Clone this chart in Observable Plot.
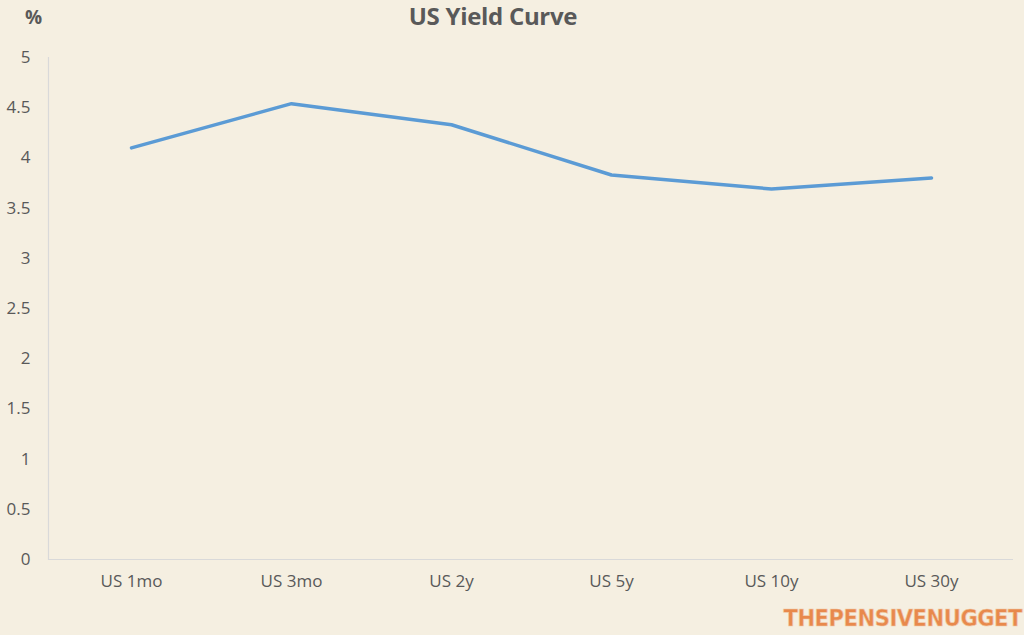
<!DOCTYPE html>
<html>
<head>
<meta charset="utf-8">
<script src="https://cdn.jsdelivr.net/npm/d3@7"></script>
<script src="https://cdn.jsdelivr.net/npm/@observablehq/plot@0.6"></script>
<style>
  html, body { margin: 0; padding: 0; background: #f5efe1; }
  #wrap { position: relative; width: 1024px; height: 635px; background: #f5efe1; overflow: hidden; }
  #title { position: absolute; left: 0; width: 986px; top: 3px; line-height: 26px; text-align: center;
    font-family: "Open Sans", sans-serif; font-weight: 700; font-size: 24px; color: #595959; letter-spacing: -0.3px; }
  #unit { position: absolute; left: 25px; top: 6px; line-height: 22px; font-family: "Open Sans", sans-serif; font-weight: 700;
    font-size: 19px; color: #595959; }
  #mark { position: absolute; right: 2px; top: 605px; line-height: 26px; font-family: "DejaVu Sans Condensed", "DejaVu Sans", sans-serif;
    font-weight: 700; font-size: 23.5px; color: #e8894c; letter-spacing: -0.5px;
    -webkit-text-stroke: 0.6px #f0c8a6; }
  #chart { position: absolute; left: 0; top: 0; }
</style>
</head>
<body>
<div id="wrap">
  <div id="chart"></div>
  <div id="title">US Yield Curve</div>
  <div id="unit">%</div>
  <div id="mark">THEPENSIVENUGGET</div>
</div>
<script>
const tenors = ["US 1mo", "US 3mo", "US 2y", "US 5y", "US 10y", "US 30y"];
const yields = [4.10, 4.54, 4.33, 3.83, 3.69, 3.80];
const yTicks = [0, 0.5, 1, 1.5, 2, 2.5, 3, 3.5, 4, 4.5, 5];

const data = tenors.map((t, i) => ({tenor: t, value: yields[i]}));

const chart = Plot.plot({
  width: 1024,
  height: 635,
  marginTop: 57,
  marginBottom: 76,
  marginLeft: 48,
  marginRight: 11,
  style: {background: "transparent", fontFamily: "'Open Sans', sans-serif", fontSize: "17px", color: "#595959"},
  x: {type: "point", domain: tenors, padding: 0.5, label: null},
  y: {domain: [0, 5], label: null},
  marks: [
    Plot.ruleY([0], {stroke: "#d9d9d9", strokeWidth: 1.2}),
    Plot.frame({anchor: "left", stroke: "#d9d9d9", strokeWidth: 1.2}),
    Plot.axisY({ticks: yTicks, tickSize: 0, tickPadding: 18, tickFormat: d => String(d), label: null, fill: "#595959"}),
    Plot.axisX({tickSize: 0, tickPadding: 15, label: null, fill: "#595959"}),
    Plot.line(data, {x: "tenor", y: "value", stroke: "#5b9bd5", strokeWidth: 3.5, strokeLinejoin: "round", strokeLinecap: "round"})
  ]
});
document.getElementById("chart").appendChild(chart);
</script>
</body>
</html>
